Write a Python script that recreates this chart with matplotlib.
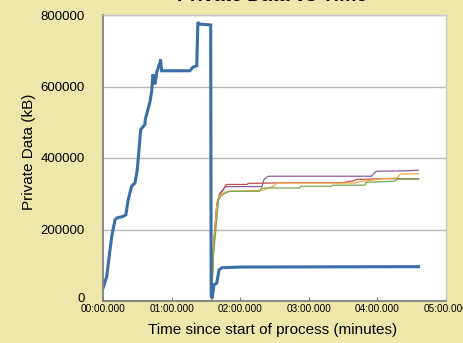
import matplotlib
matplotlib.use("Agg")
import matplotlib.pyplot as plt
import matplotlib.transforms as mtransforms
from matplotlib.ticker import FuncFormatter

plt.rcParams['font.family'] = ['Liberation Sans', 'DejaVu Sans']

# time in seconds, private data in kB
blue_t = [0, 3.2, 7.6, 10.5, 12, 17.8, 20, 22, 25, 28, 30, 33, 36.7, 37, 41, 42.6, 43, 43.7,
          45.5, 47, 49.9, 50.3, 51.3, 76, 78.7, 82, 83, 84, 94.2, 94.6, 95.6, 97, 99.5, 101.5,
          104, 120, 276]
blue_v = [36000, 68000, 180000, 227000, 232000, 237000, 241000, 283000, 321000, 330000, 368000,
          480000, 494000, 508000, 556000, 587000, 606000, 634000, 606000, 640000, 668000, 676000,
          644000, 644000, 654000, 658000, 780000, 775000, 772000, 14000, 8000, 45000, 50000,
          87000, 93000, 95000, 96000]

purple_t = [0, 95, 96.5, 99.5, 102, 105, 107, 139, 141, 144.5, 235, 236, 239, 264, 276]
purple_v = [0, 0, 150000, 268000, 298000, 310000, 320000, 320000, 341000, 349000, 349000,
            354000, 363000, 364000, 366000]

red_t = [0, 95, 96.5, 99.5, 102, 105, 108, 126, 127, 165, 209, 219, 222, 245, 276]
red_v = [0, 0, 150000, 270000, 300000, 312000, 326000, 326000, 329000, 331000, 331000,
         336000, 340000, 342000, 342000]

orange_t = [0, 95, 96.5, 99.5, 102, 106, 110, 140, 150, 152, 220, 225, 245, 257, 260, 276]
orange_v = [0, 0, 140000, 265000, 295000, 304000, 307000, 310000, 322000, 330000, 330000,
            334000, 342000, 344000, 355000, 356000]

green_t = [0, 95, 96.5, 99.5, 101, 103, 106, 111, 137, 138.5, 172, 173, 200, 201, 229, 230,
           255, 258, 276]
green_v = [0, 0, 121000, 227000, 283000, 293000, 300000, 307000, 307000, 316000, 316000,
           321000, 321000, 324000, 324000, 332000, 335000, 341000, 341000]

x_ticks = [0, 60, 120, 180, 240, 300]
y_ticks = [0, 200000, 400000, 600000, 800000]

bg = '#ede7ab'
fig = plt.figure(figsize=(4.64, 3.43), dpi=100, facecolor=bg)
ax = fig.add_axes([103 / 464, 1 - 301 / 343, 343 / 464, 286 / 343])
ax.set_facecolor('white')

ax.plot(purple_t, purple_v, color='#8b5e9b', lw=0.9)
ax.plot(red_t, red_v, color='#c0504d', lw=0.9)
ax.plot(orange_t, orange_v, color='#f7a940', lw=0.9)
ax.plot(green_t, green_v, color='#74a84e', lw=0.9)
ax.plot(blue_t, blue_v, color='#3a6ea6', lw=2.2, solid_joinstyle='miter')

ax.set_xlim(0, 300)
ax.set_ylim(0, 800000)
ax.set_xticks(x_ticks)
ax.set_yticks(y_ticks)
ax.xaxis.set_major_formatter(FuncFormatter(lambda s, p: f"{int(s // 60):02d}:{int(s % 60):02d}.000"))
ax.yaxis.set_major_formatter(FuncFormatter(lambda v, p: f"{int(v)}"))
ax.grid(axis='y', color='#b5b5b5', lw=1)
ax.set_axisbelow(True)

ax.tick_params(axis='x', direction='in', length=3, color='#808080', labelsize=7.2, pad=2)
ax.tick_params(axis='y', length=0, labelsize=9.5, pad=13)
for s in ['left', 'bottom']:
    ax.spines[s].set_color('#808080')
    ax.spines[s].set_linewidth(1.3)
for s in ['top', 'right']:
    ax.spines[s].set_color('#c8c8c8')
    ax.spines[s].set_linewidth(1)

# lift the "0" label a little so it clears the first time label
zero_label = ax.get_yticklabels()[0]
zero_label.set_transform(zero_label.get_transform() +
                         mtransforms.ScaledTranslation(0, 4 / 100, fig.dpi_scale_trans))

fig.text(29 / 464, 1 - 152 / 343, 'Private Data (kB)', rotation=90, ha='center', va='center',
         fontsize=11)
fig.text(273 / 464, 1 - 330 / 343, 'Time since start of process (minutes)', ha='center',
         va='center', fontsize=11)
fig.text(272 / 464, 1 - 5 / 343, 'Private Data vs Time', ha='center', va='bottom',
         fontsize=14, fontweight='bold')

fig.savefig('out.png', dpi=100, facecolor=bg)
